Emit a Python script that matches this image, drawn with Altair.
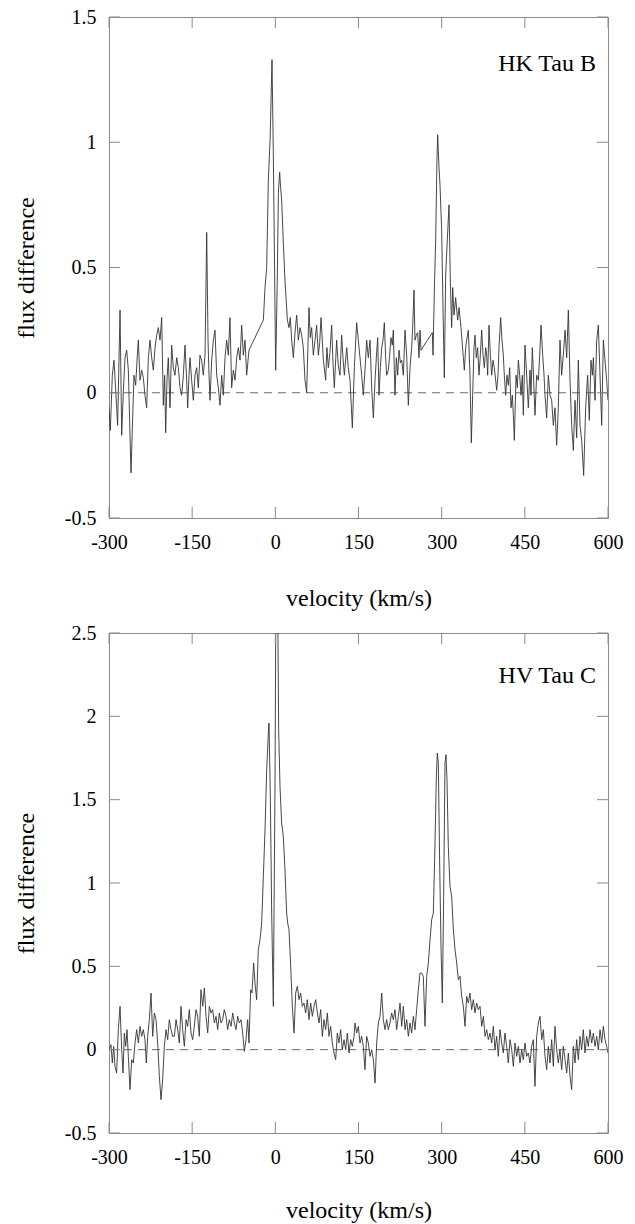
import altair as alt
import pandas as pd

# ---------------- data ----------------
# HK Tau B (upper panel): velocity (km/s) and flux difference
hk_v = [-300.0, -297.6, -294.0, -291.0, -287.4, -284.4, -280.1, -277.1, -274.1, -271.1,
        -268.1, -265.1, -262.1, -260.3, -257.9, -254.9, -251.9, -248.9, -247.1, -244.1,
        -241.1, -238.1, -235.1, -232.1, -229.0, -226.0, -223.0, -220.0, -217.0, -214.0,
        -211.0, -208.0, -205.0, -202.0, -199.6, -197.8, -195.4, -193.0, -190.0, -187.0,
        -184.0, -181.0, -177.9, -174.9, -171.9, -168.9, -165.9, -162.9, -159.9, -158.1,
        -155.7, -153.9, -150.9, -147.9, -144.9, -141.9, -138.9, -135.9, -132.9, -129.9,
        -126.8, -123.8, -121.4, -119.6, -117.8, -114.8, -111.8, -108.8, -105.8, -102.8,
        -99.8, -96.8, -93.8, -90.8, -87.8, -84.8, -81.8, -78.8, -75.7, -72.7,
        -69.7, -66.7, -63.7, -60.7, -57.7, -54.7, -51.7, -47.5,
        -21.6, -18.6, -15.6, -12.6, -9.3, -6.0, -3.6, 0.6, 3.5, 5.5,
        7.8, 9.5, 11.4, 14.4, 17.4, 21.7, 24.7, 27.0, 29.5, 32.5,
        35.5, 38.5, 41.5, 44.5, 47.5, 50.5, 53.5, 56.5, 60.7, 63.0,
        65.5, 68.5, 71.6, 74.5, 77.6, 80.0, 82.4, 86.6, 90.8, 93.0,
        95.6, 98.5, 101.6, 104.0, 106.4, 110.6, 113.5, 116.6, 119.6, 122.0,
        124.5, 128.7, 131.5, 134.7, 138.9, 142.5, 146.7, 149.7, 152.7, 155.7,
        158.7, 161.7, 164.7, 167.7, 170.8, 173.8, 176.8, 179.8, 182.2, 184.6,
        187.0, 189.4, 191.8, 194.2, 196.6, 199.0, 200.8, 203.8, 206.2, 208.6,
        211.0, 212.8, 215.8, 218.3, 220.7, 223.1, 225.5, 227.9, 230.9, 233.9,
        236.9, 239.9, 242.9, 245.9, 247.7, 250.1, 251.9, 254.3, 256.7, 259.1,
        260.9, 262.7,
        283.2, 284.4, 286.8, 289.2, 291.6, 292.8, 295.2, 297.0, 300.0, 302.4,
        304.8, 307.2, 310.2, 313.2, 315.6, 318.0, 319.9, 322.3, 325.3, 327.1,
        328.9, 331.3, 334.9, 337.3, 339.1, 340.9, 343.3, 345.1, 348.1, 351.1,
        353.5, 355.9, 358.3, 360.1, 362.5, 364.9, 367.3, 369.2, 372.2, 374.6,
        377.0, 379.4, 381.2, 383.0, 385.4, 387.8, 390.2, 392.6, 395.0, 397.4,
        399.2, 401.6, 403.4, 406.4, 408.8, 411.2, 413.0, 415.4, 417.8, 420.2,
        422.7, 425.1, 427.5, 429.3, 431.1, 434.1, 436.5, 438.3, 440.7, 443.1,
        445.5, 447.3, 450.3, 453.3, 456.3, 459.3, 461.1, 463.5, 465.9, 468.3,
        471.3, 474.4, 476.8, 479.2, 482.2, 484.6, 486.4, 489.4, 492.4, 495.4,
        498.4, 501.4, 504.4, 507.4, 510.4, 513.4, 516.4, 519.4, 522.5, 525.5,
        528.5, 531.5, 534.5, 537.5, 540.5, 543.5, 546.5, 549.5, 552.5, 556.1,
        559.7, 563.3, 566.3, 569.3, 571.8, 573.6, 576.6, 579.6, 582.6, 585.6,
        588.6, 591.6, 594.6, 597.6, 600.0]
hk_f = [-0.06, -0.15, 0.07, 0.13, -0.01, -0.13, 0.33, -0.17, 0.01, 0.14,
        0.17, 0.09, -0.17, -0.32, -0.14, 0.07, 0.03, 0.15, 0.21, 0.05,
        0.09, 0.06, -0.01, -0.06, 0.14, 0.21, 0.14, 0.09, 0.18, 0.23,
        0.26, 0.21, 0.30, -0.05, 0.07, -0.16, 0.05, 0.14, -0.06, 0.19,
        0.10, 0.07, 0.14, 0.10, 0.02, -0.01, 0.07, 0.19, 0.05, -0.06,
        0.07, 0.14, 0.05, -0.03, 0.07, 0.10, 0.02, 0.15, 0.13, 0.07,
        0.15, 0.64, 0.21, 0.07, -0.03, 0.13, 0.21, 0.25, 0.07, 0.02,
        -0.05, 0.07, -0.01, 0.14, 0.21, 0.15, 0.30, 0.02, 0.09, 0.05,
        0.14, 0.18, 0.13, 0.27, 0.15, 0.21, 0.07, 0.17,
        0.29, 0.42, 0.50, 0.85, 1.02, 1.33, 0.95, 0.09, 0.45, 0.80,
        0.88, 0.82, 0.77, 0.60, 0.45, 0.29, 0.26, 0.30, 0.21, 0.14,
        0.24, 0.31, 0.21, 0.26, 0.23, 0.18, 0.05, 0.00, 0.34, 0.22,
        0.26, 0.15, 0.21, 0.27, 0.15, 0.20, 0.30, 0.13, 0.05, 0.18,
        0.10, 0.16, 0.27, 0.12, 0.02, 0.21, 0.11, 0.07, 0.23, 0.14,
        0.07, 0.18, 0.10, 0.05, -0.14, 0.10, 0.28, 0.21, 0.14, 0.07,
        -0.01, 0.09, 0.21, 0.14, 0.21, 0.02, -0.10, 0.05, 0.14, 0.22,
        -0.01, 0.10, 0.18, 0.21, 0.28, 0.14, 0.07, 0.09, 0.15, 0.22,
        0.19, 0.25, -0.01, 0.14, 0.07, 0.17, 0.12, 0.13, 0.07, 0.25,
        0.15, -0.05, 0.10, 0.18, 0.26, 0.41, 0.21, 0.23, 0.24, 0.14,
        0.25, 0.17,
        0.24, 0.15, 0.41, 0.61, 0.94, 1.03, 0.90, 0.83, 0.65, 0.34,
        0.06, 0.47, 0.61, 0.75, 0.45, 0.26, 0.42, 0.31, 0.38, 0.33,
        0.29, 0.34, 0.26, 0.19, 0.14, 0.09, 0.18, 0.21, 0.25, 0.07,
        -0.20, -0.01, 0.18, 0.23, 0.14, 0.18, 0.07, 0.13, 0.25, 0.15,
        0.10, 0.18, 0.15, 0.07, 0.27, 0.15, 0.07, 0.13, 0.10, 0.05,
        0.01, 0.07, 0.18, 0.30, 0.21, 0.15, 0.07, -0.01, 0.07, 0.03,
        0.10, -0.06, -0.01, -0.09, -0.19, 0.07, 0.02, 0.13, 0.07, -0.01,
        0.07, -0.09, 0.19, 0.07, -0.06, 0.09, -0.01, 0.18, 0.05, -0.09,
        0.07, 0.05, 0.15, 0.27, 0.15, 0.07, -0.01, -0.10, 0.07, -0.01,
        -0.03, -0.13, -0.06, -0.21, -0.06, 0.21, 0.07, 0.15, 0.25, 0.14,
        0.33, 0.05, -0.13, -0.23, -0.03, -0.18, 0.13, -0.13, -0.19, -0.33,
        -0.06, 0.07, -0.11, 0.13, 0.07, 0.14, -0.03, 0.21, 0.27, 0.07,
        -0.13, 0.21, 0.13, 0.05, -0.03]

# HV Tau C (lower panel)
hv_v = [-300.0, -296.4, -294.0, -291.6, -289.2, -286.2, -283.2, -280.1, -277.1, -274.7,
        -272.3, -269.9, -267.5, -265.1, -262.1, -259.1, -256.1, -253.1, -250.1, -247.1,
        -244.1, -241.1, -238.1, -235.1, -232.7, -230.2, -227.2, -224.2, -221.2, -218.2,
        -215.2, -212.2, -209.2, -206.2, -203.2, -200.2, -197.2, -194.2, -191.2, -188.2,
        -185.2, -182.1, -179.1, -176.1, -173.1, -170.1, -167.1, -164.1, -161.1, -158.1,
        -155.1, -152.1, -149.1, -146.1, -143.1, -140.1, -137.1, -134.1, -131.0, -128.0,
        -125.0, -122.0, -119.0, -116.0, -113.0, -110.0, -107.0, -104.0, -101.0, -98.0,
        -95.0, -92.0, -89.0, -86.0, -83.0, -79.9, -76.9, -73.9, -70.9, -67.9,
        -64.9, -61.9, -58.9, -55.9, -52.9, -49.9, -47.5, -44.5, -42.1, -39.1,
        -36.7, -33.7, -30.7, -27.6, -24.6, -21.6, -18.6, -15.6, -12.6, -11.4,
        -9.0, -6.6, -3.6, -0.6, 1.0, 4.2, 6.0, 8.4, 11.4, 14.4,
        17.4, 20.4, 22.3, 24.7, 27.7, 30.7, 33.7, 36.7, 39.7, 42.7,
        45.7, 48.7, 51.7, 54.7, 57.7, 60.7, 63.7, 66.7, 69.7, 72.8,
        75.8, 78.8, 81.8, 84.8, 87.8, 90.8, 93.8, 96.8, 99.8, 102.8,
        105.8, 108.8, 111.8, 114.8, 117.8, 120.8, 123.9, 126.9, 129.9, 132.9,
        135.9, 138.9, 141.9, 143.7, 146.7, 149.7, 152.7, 155.7, 158.7, 161.7,
        164.7, 167.7, 170.8, 173.8, 176.8, 179.8, 182.8, 185.8, 188.8, 191.8,
        194.8, 197.8, 200.8, 203.8, 206.8, 209.8, 212.8, 215.8, 218.8, 221.9,
        224.9, 227.9, 230.9, 233.9, 236.9, 239.9, 242.9, 245.9, 248.9, 251.9,
        254.9, 257.9, 260.9, 263.9, 266.9, 269.9, 273.0, 276.0, 279.0, 282.0,
        285.0, 288.0, 290.4, 292.2, 294.0, 296.4, 298.8, 301.2, 303.6, 306.0,
        307.8, 309.6, 312.0, 315.0, 318.0, 321.1, 324.1, 327.1, 330.1, 333.1,
        336.1, 339.1, 342.1, 345.1, 348.1, 351.1, 354.1, 357.1, 360.1, 363.1,
        366.1, 369.2, 372.2, 375.2, 378.2, 381.2, 384.2, 387.2, 390.2, 393.2,
        396.2, 399.2, 402.2, 405.2, 408.2, 411.2, 414.2, 417.2, 420.2, 423.3,
        426.3, 429.3, 432.3, 435.3, 438.3, 441.3, 444.3, 447.3, 450.3, 453.3,
        456.3, 459.3, 462.3, 465.3, 468.3, 471.3, 474.4, 477.4, 480.4, 483.4,
        486.4, 489.4, 492.4, 495.4, 498.4, 501.4, 504.4, 507.4, 510.4, 513.4,
        516.4, 519.4, 522.5, 525.5, 528.5, 531.5, 534.5, 537.5, 540.5, 543.5,
        546.5, 549.5, 552.5, 555.5, 558.5, 561.5, 564.5, 567.6, 570.6, 573.6,
        576.6, 579.6, 582.6, 585.6, 588.6, 591.6, 594.6, 597.6, 600.0]
hv_f = [0.00, 0.03, -0.08, 0.02, -0.10, -0.14, 0.12, 0.26, 0.00, -0.14,
        0.10, 0.02, 0.12, -0.04, -0.24, -0.06, -0.08, 0.04, 0.12, 0.04,
        0.14, 0.08, 0.12, 0.06, -0.08, 0.08, 0.18, 0.34, 0.08, 0.22,
        0.18, 0.04, -0.16, -0.30, -0.18, 0.02, 0.12, 0.06, 0.18, 0.12,
        0.08, 0.08, 0.18, 0.12, 0.04, 0.26, 0.12, 0.02, 0.18, 0.14,
        0.24, 0.10, 0.06, 0.14, 0.24, 0.20, 0.08, 0.36, 0.26, 0.37,
        0.20, 0.10, 0.26, 0.22, 0.24, 0.16, 0.20, 0.12, 0.22, 0.16,
        0.18, 0.24, 0.20, 0.12, 0.18, 0.14, 0.22, 0.16, 0.12, 0.20,
        0.16, 0.18, 0.10, -0.01, 0.06, 0.18, 0.04, 0.36, 0.34, 0.52,
        0.40, 0.30, 0.60, 0.66, 0.76, 1.04, 1.32, 1.68, 1.90, 1.96,
        1.52, 0.82, 0.26, 1.60, 2.70, 2.70, 1.92, 1.58, 1.36, 1.28,
        1.08, 0.82, 0.76, 0.72, 0.50, 0.26, 0.10, 0.34, 0.38, 0.30,
        0.34, 0.26, 0.28, 0.22, 0.30, 0.18, 0.28, 0.20, 0.26, 0.30,
        0.22, 0.16, 0.24, 0.08, 0.18, 0.12, 0.22, 0.08, 0.14, 0.04,
        -0.02, -0.06, 0.10, 0.04, 0.12, 0.00, 0.06, 0.00, 0.10, -0.02,
        0.06, 0.02, 0.08, 0.16, 0.10, 0.14, 0.04, 0.08, 0.02, -0.12,
        0.08, 0.04, -0.04, 0.00, -0.06, -0.20, 0.04, 0.16, 0.20, 0.34,
        0.18, 0.12, 0.18, 0.12, 0.16, 0.22, 0.18, 0.24, 0.12, 0.20,
        0.28, 0.14, 0.26, 0.12, 0.18, 0.08, 0.16, 0.10, 0.20, 0.12,
        0.24, 0.36, 0.46, 0.46, 0.44, 0.14, 0.44, 0.52, 0.66, 0.78,
        0.82, 1.24, 1.64, 1.78, 1.72, 1.12, 0.62, 0.28, 0.92, 1.72,
        1.77, 1.62, 1.22, 0.98, 0.92, 0.72, 0.60, 0.52, 0.42, 0.44,
        0.32, 0.26, 0.14, 0.32, 0.28, 0.34, 0.24, 0.30, 0.22, 0.28,
        0.24, 0.26, 0.14, 0.20, 0.08, 0.12, 0.06, 0.10, 0.04, 0.14,
        0.00, 0.08, -0.04, 0.12, 0.04, -0.02, 0.10, 0.02, -0.08, 0.06,
        0.00, -0.10, 0.04, -0.04, 0.02, -0.08, 0.00, -0.06, 0.04, -0.04,
        -0.02, -0.08, 0.02, 0.06, -0.22, 0.08, 0.16, 0.20, 0.06, 0.12,
        -0.04, -0.12, 0.02, -0.08, 0.06, -0.10, 0.14, 0.00, -0.08, 0.00,
        -0.12, 0.02, -0.06, -0.14, -0.02, -0.16, -0.24, 0.02, -0.08, 0.06,
        -0.06, 0.08, 0.00, 0.12, -0.02, 0.08, 0.02, 0.12, 0.04, 0.10,
        0.02, 0.08, 0.00, 0.12, 0.04, 0.14, 0.06, 0.02, -0.02]

x_ticks = [-300, -150, 0, 150, 300, 450, 600]
hk_y_ticks = [-0.5, 0, 0.5, 1, 1.5]
hv_y_ticks = [-0.5, 0, 0.5, 1, 1.5, 2, 2.5]
labels = ["HK Tau B", "HV Tau C"]

# ---------------- styling ----------------
FONT = "'Liberation Serif', 'Times New Roman', 'DejaVu Serif', serif"
W = 499
TICK = 11
FRAME = "#8a8a8a"


def panel(v, f, yticks, ymax, label, h, label_y, title_y):
    xs = alt.Scale(domain=[-300, 600], nice=False, zero=False)
    ys = alt.Scale(domain=[-0.5, ymax], nice=False, zero=False)
    df = pd.DataFrame({"v": v, "f": f})
    xt = pd.DataFrame({"t": x_ticks})
    yt = pd.DataFrame({"t": yticks})

    x_axis = alt.Axis(values=x_ticks, title="velocity (km/s)", labelExpr="'' + datum.value",
                      labelBaseline="alphabetic", labelPadding=30, labelFlush=False,
                      titleY=title_y, titleBaseline="alphabetic")
    y_axis = alt.Axis(values=yticks, title="flux difference", labelExpr="'' + datum.value",
                      labelPadding=13, labelFlush=False, labelBaseline="middle",
                      titleX=-76, titleY=h / 2, titleAngle=270, titleAlign="center",
                      titleBaseline="alphabetic")

    X = lambda fld: alt.X(fld, scale=xs, axis=x_axis)
    Y = lambda fld: alt.Y(fld, scale=ys, axis=y_axis)

    zero = alt.Chart(pd.DataFrame({"z": [0]})).mark_rule(
        color="#444444", strokeDash=[8, 6], strokeWidth=0.8
    ).encode(y=Y("z:Q"))

    line = alt.Chart(df).mark_line(color="#333333", strokeWidth=0.9, clip=True).encode(
        x=X("v:Q"), y=Y("f:Q"), order=alt.Order("v:Q"),
    )

    left_t = alt.Chart(yt).mark_rule(color=FRAME, strokeWidth=1).encode(
        y=Y("t:Q"), x=alt.value(0), x2=alt.value(TICK))
    right_t = alt.Chart(yt).mark_rule(color=FRAME, strokeWidth=1).encode(
        y=Y("t:Q"), x=alt.value(W - TICK), x2=alt.value(W))
    bot_t = alt.Chart(xt).mark_rule(color=FRAME, strokeWidth=1).encode(
        x=X("t:Q"), y=alt.value(h - TICK), y2=alt.value(h))
    top_t = alt.Chart(xt).mark_rule(color=FRAME, strokeWidth=1).encode(
        x=X("t:Q"), y=alt.value(0), y2=alt.value(TICK))

    txt = alt.Chart(pd.DataFrame({"name": [label]})).mark_text(
        align="right", baseline="alphabetic", font=FONT, fontSize=24, color="black"
    ).encode(text="name:N", x=alt.value(W - 12), y=alt.value(label_y))

    return alt.layer(line, zero, left_t, right_t, bot_t, top_t, txt).properties(
        width=W, height=h)


top = panel(hk_v, hk_f, hk_y_ticks, 1.5, labels[0], 501, 54, 87)
bottom = panel(hv_v, hv_f, hv_y_ticks, 2.5, labels[1], 500, 50, 84)

chart = alt.vconcat(top, bottom, spacing=11).properties(
    padding={"left": 13, "top": 6, "right": 0, "bottom": 0}
).configure(
    background="white"
).configure_view(
    stroke=FRAME, strokeWidth=1
).configure_axis(
    domain=False, ticks=False, tickSize=0, grid=False,
    labelFont=FONT, labelFontSize=20, labelColor="black",
    titleFont=FONT, titleFontSize=24, titleFontWeight="normal", titleColor="black",
)

chart.save("out.html", embed_options={"renderer": "svg", "actions": False})
